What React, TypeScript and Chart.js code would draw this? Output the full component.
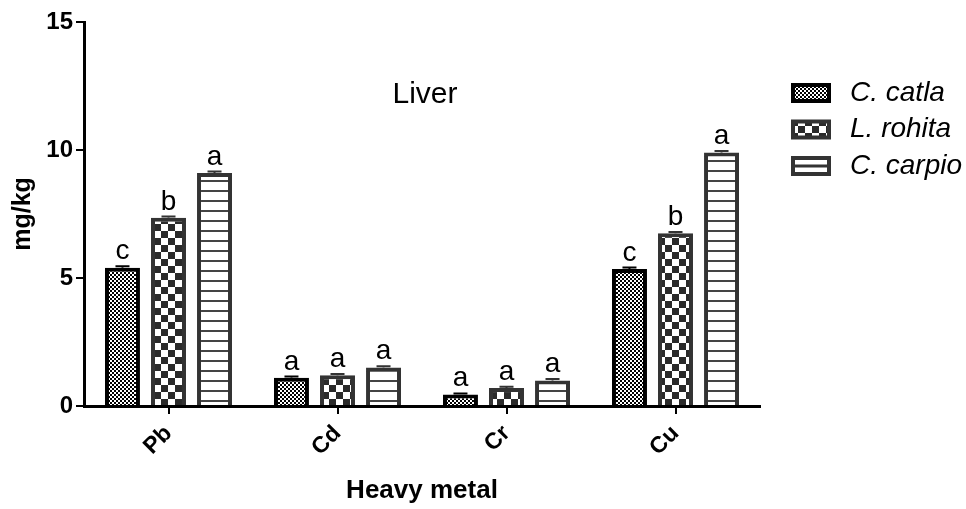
import React, { useEffect, useRef } from "react";
import { Chart, registerables } from "chart.js";

Chart.register(...registerables);

const categories = ["Pb", "Cd", "Cr", "Cu"];
const seriesNames = ["C. catla", "L. rohita", "C. carpio"];
const catlaValues = [5.4, 1.1, 0.45, 5.35];
const rohitaValues = [7.35, 1.2, 0.7, 6.75];
const carpioValues = [9.1, 1.5, 1.0, 9.9];
const catlaErrors = [0.06, 0.05, 0.04, 0.06];
const rohitaErrors = [0.05, 0.05, 0.05, 0.05];
const carpioErrors = [0.06, 0.05, 0.05, 0.06];
const catlaLetters = ["c", "a", "a", "c"];
const rohitaLetters = ["b", "a", "a", "b"];
const carpioLetters = ["a", "a", "a", "a"];
const chartTitle = "Liver";
const xTitle = "Heavy metal";
const yTitle = "mg/kg";
const yMin = 0;
const yMax = 15;
const yStep = 5;

const FONT = "'Liberation Sans', Arial, Helvetica, sans-serif";

function makeTile(w: number, h: number, draw: (c: CanvasRenderingContext2D) => void) {
  const cv = document.createElement("canvas");
  cv.width = w;
  cv.height = h;
  const c = cv.getContext("2d")!;
  draw(c);
  return cv;
}

export default function App() {
  const ref = useRef<HTMLCanvasElement | null>(null);

  useEffect(() => {
    const canvas = ref.current!;
    const ctx0 = canvas.getContext("2d")!;

    const fineTile = makeTile(4, 4, (c) => {
      c.fillStyle = "#ffffff";
      c.fillRect(0, 0, 4, 4);
      c.fillStyle = "#000000";
      c.fillRect(0, 0, 2, 2);
      c.fillRect(2, 2, 2, 2);
    });
    const coarseTile = makeTile(14, 14, (c) => {
      c.fillStyle = "#ffffff";
      c.fillRect(0, 0, 14, 14);
      c.fillStyle = "#2a2a2a";
      c.fillRect(0, 0, 7, 7);
      c.fillRect(7, 7, 7, 7);
    });
    const stripeTile = makeTile(4, 10, (c) => {
      c.fillStyle = "#ffffff";
      c.fillRect(0, 0, 4, 10);
      c.fillStyle = "#444444";
      c.fillRect(0, 0, 4, 2);
    });
    const fine = ctx0.createPattern(fineTile, "repeat")!;
    const coarse = ctx0.createPattern(coarseTile, "repeat")!;
    const stripe = ctx0.createPattern(stripeTile, "repeat")!;

    const borders = ["#000000", "#333333", "#333333"];
    const fills = [fine, coarse, stripe];
    const values = [catlaValues, rohitaValues, carpioValues];
    const errors = [catlaErrors, rohitaErrors, carpioErrors];
    const letters = [catlaLetters, rohitaLetters, carpioLetters];

    const annot = {
      id: "annot",
      afterDatasetsDraw(chart: any) {
        const ctx = chart.ctx;
        const ys = chart.scales.y;
        ctx.save();
        chart.data.datasets.forEach((ds: any, di: number) => {
          const meta = chart.getDatasetMeta(di);
          meta.data.forEach((el: any, i: number) => {
            const top = ys.getPixelForValue(values[di][i] + errors[di][i]);
            ctx.strokeStyle = borders[di];
            ctx.lineWidth = 2;
            ctx.beginPath();
            ctx.moveTo(el.x - 7, top);
            ctx.lineTo(el.x + 7, top);
            ctx.moveTo(el.x, top);
            ctx.lineTo(el.x, el.y);
            ctx.stroke();
            ctx.fillStyle = "#000";
            ctx.font = `28px ${FONT}`;
            ctx.textAlign = "center";
            ctx.textBaseline = "alphabetic";
            ctx.fillText(letters[di][i], el.x, top - 7);
          });
        });
        // title
        const ca = chart.chartArea;
        ctx.font = `30px ${FONT}`;
        ctx.textAlign = "center";
        ctx.textBaseline = "middle";
        ctx.fillStyle = "#000";
        ctx.fillText(chartTitle, (ca.left + ca.right) / 2 + 3, 95);
        // legend
        const bx = 791, bw = 40, bh = 20;
        const centers = [93, 129.5, 166];
        seriesNames.forEach((name, k) => {
          const cy = centers[k];
          const y0 = cy - bh / 2;
          ctx.fillStyle = borders[k];
          ctx.fillRect(bx, y0, bw, bh);
          ctx.fillStyle = k === 2 ? "#ffffff" : (fills[k] as any);
          ctx.fillRect(bx + 4, y0 + 4, bw - 8, bh - 8);
          if (k === 2) {
            ctx.fillStyle = borders[k];
            ctx.fillRect(bx + 4, cy - 1.5, bw - 8, 3);
          }
          ctx.fillStyle = "#000";
          ctx.font = `italic 28px ${FONT}`;
          ctx.textAlign = "left";
          ctx.textBaseline = "middle";
          ctx.fillText(name, 850, cy);
        });
        ctx.restore();
      },
    };

    const chart = new Chart(canvas, {
      type: "bar",
      data: {
        labels: categories,
        datasets: seriesNames.map((name, k) => ({
          label: name,
          data: values[k],
          backgroundColor: fills[k] as any,
          borderColor: borders[k],
          borderWidth: 4,
          borderSkipped: "start",
          categoryPercentage: 0.817,
          barPercentage: 0.76,
        })),
      },
      options: {
        animation: false,
        responsive: true,
        maintainAspectRatio: false,
        layout: { padding: { top: 22, right: 206, left: 0, bottom: 0 } },
        plugins: {
          legend: { display: false },
          tooltip: { enabled: false },
          title: { display: false },
        },
        scales: {
          x: {
            type: "category",
            grid: {
              display: true,
              drawOnChartArea: false,
              drawTicks: true,
              tickLength: 8,
              lineWidth: 2,
              color: "#000",
              offset: false,
            },
            border: { display: true, color: "#000", width: 3 },
            ticks: {
              color: "#000",
              font: { family: FONT, size: 23, weight: "bold" },
              maxRotation: 45,
              minRotation: 45,
              padding: 6,
            },
            title: {
              display: true,
              text: xTitle,
              color: "#000",
              font: { family: FONT, size: 26, weight: "bold" },
              padding: { top: 0, bottom: 3 },
            },
            afterFit(scale: any) {
              scale.height = 103;
            },
          },
          y: {
            min: yMin,
            max: yMax,
            ticks: {
              stepSize: yStep,
              color: "#000",
              font: { family: FONT, size: 24, weight: "bold" },
              padding: 3,
            },
            grid: {
              display: true,
              drawOnChartArea: false,
              drawTicks: true,
              tickLength: 8,
              lineWidth: 2,
              color: "#000",
            },
            border: { display: true, color: "#000", width: 3 },
            title: {
              display: true,
              text: yTitle,
              color: "#000",
              font: { family: FONT, size: 25, weight: "bold" },
              padding: { top: 8, bottom: 0 },
            },
            afterFit(scale: any) {
              scale.width = 84;
            },
          },
        },
      } as any,
      plugins: [annot],
    });
    return () => chart.destroy();
  }, []);

  return (
    <div style={{ position: "fixed", left: 0, top: 0, width: 966, height: 509, background: "#fff" }}>
      <canvas ref={ref} />
    </div>
  );
}
